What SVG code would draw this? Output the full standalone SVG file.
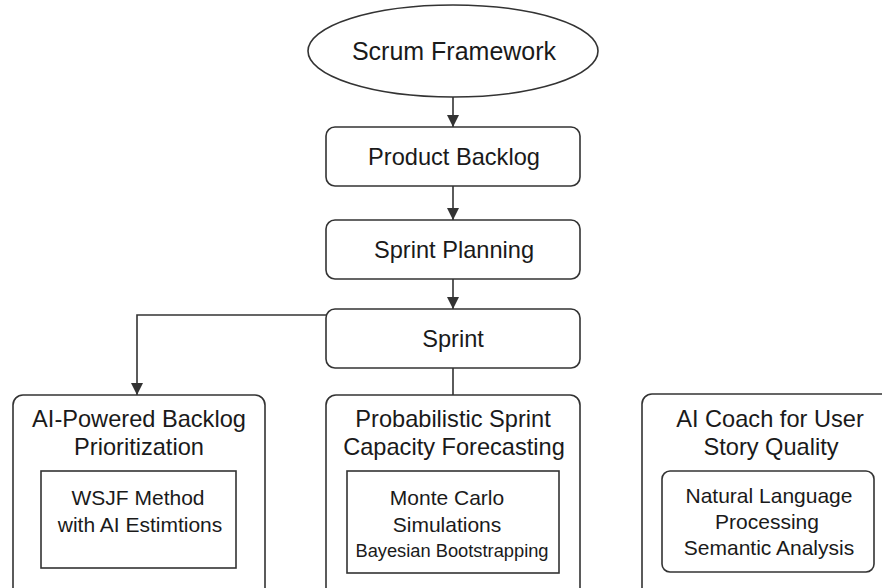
<svg xmlns="http://www.w3.org/2000/svg" width="882" height="588" viewBox="0 0 882 588">
<style>
.shape{fill:#ffffff;stroke:#333333;stroke-width:1.6}
.conn{fill:none;stroke:#333333;stroke-width:1.6}
text{font-family:"Liberation Sans",Arial,Helvetica,sans-serif;fill:#1a1a1a;text-anchor:middle}
.big{font-size:25px}
.main{font-size:23.6px}
.inner{font-size:21px}
.small{font-size:18.3px}
</style>
<defs>
<marker id="arrow" markerWidth="12" markerHeight="12" refX="10" refY="5" orient="auto" markerUnits="userSpaceOnUse" viewBox="0 0 10 10">
<path d="M0,0 L10,5 L0,10 Z" fill="#333333"/>
</marker>
</defs>
<rect width="882" height="588" fill="#ffffff"/>
<g id="connectors">
<line class="conn" x1="453" y1="97" x2="453" y2="127" marker-end="url(#arrow)"/>
<line class="conn" x1="453" y1="186" x2="453" y2="220" marker-end="url(#arrow)"/>
<line class="conn" x1="453" y1="279" x2="453" y2="309" marker-end="url(#arrow)"/>
<line class="conn" x1="453" y1="368" x2="453" y2="395"/>
<polyline class="conn" points="326,315 137,315 137,395" marker-end="url(#arrow)"/>
</g>
<g id="scrum-framework">
<ellipse class="shape" cx="453" cy="51" rx="145" ry="46"/>
<text class="big" x="454" y="60">Scrum Framework</text>
</g>
<g id="product-backlog">
<rect class="shape" x="326" y="127" width="254" height="59" rx="9"/>
<text class="main" x="454" y="165">Product Backlog</text>
</g>
<g id="sprint-planning">
<rect class="shape" x="326" y="220" width="254" height="59" rx="9"/>
<text class="main" x="454" y="258">Sprint Planning</text>
</g>
<g id="sprint">
<rect class="shape" x="326" y="309" width="254" height="59" rx="9"/>
<text class="main" x="453" y="347">Sprint</text>
</g>
<g id="ai-backlog">
<rect class="shape" x="13" y="395" width="252" height="210" rx="10"/>
<text class="main" x="139" y="427">AI-Powered Backlog</text>
<text class="main" x="139" y="455">Prioritization</text>
<rect class="shape" x="41" y="471" width="195" height="97"/>
<text class="inner" x="138" y="505">WSJF Method</text>
<text class="inner" x="140" y="532">with AI Estimtions</text>
</g>
<g id="capacity-forecasting">
<rect class="shape" x="326" y="395" width="254" height="210" rx="10"/>
<text class="main" x="453" y="427">Probabilistic Sprint</text>
<text class="main" x="454" y="455">Capacity Forecasting</text>
<rect class="shape" x="347" y="471" width="212" height="102"/>
<text class="inner" x="447" y="505">Monte Carlo</text>
<text class="inner" x="447" y="532">Simulations</text>
<text class="small" x="452" y="557">Bayesian Bootstrapping</text>
</g>
<g id="ai-coach">
<rect class="shape" x="642" y="394" width="258" height="210" rx="10"/>
<text class="main" x="770" y="427">AI Coach for User</text>
<text class="main" x="771" y="455">Story Quality</text>
<rect class="shape" x="662" y="471" width="212" height="101" rx="8"/>
<text class="inner" x="769" y="503">Natural Language</text>
<text class="inner" x="767" y="529">Processing</text>
<text class="inner" x="769" y="555">Semantic Analysis</text>
</g>
</svg>
